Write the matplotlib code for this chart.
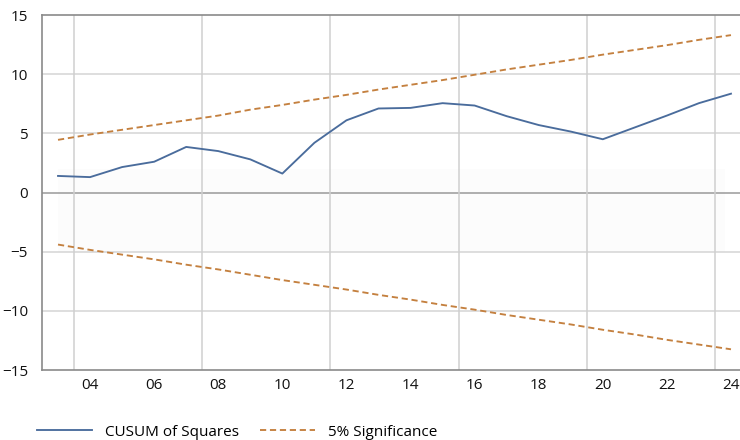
import matplotlib
matplotlib.use("Agg")
import matplotlib.pyplot as plt
import numpy as np

plt.rcParams['font.family'] = ['Open Sans', 'DejaVu Sans']

# data
years = list(range(2003, 2025))
cusum = [1.4, 1.3, 2.15, 2.6, 3.85, 3.5, 2.8, 1.6, 4.2, 6.1, 7.1, 7.15,
         7.55, 7.35, 6.45, 5.7, 5.15, 4.5, 5.5, 6.5, 7.55, 8.35]
upper = [4.45, 4.9, 5.3, 5.7, 6.1, 6.5, 7.0, 7.4, 7.85, 8.25, 8.7, 9.1,
         9.5, 9.95, 10.4, 10.8, 11.2, 11.65, 12.05, 12.45, 12.9, 13.3]
lower = [-4.4, -4.85, -5.25, -5.65, -6.1, -6.5, -6.95, -7.4, -7.8, -8.2, -8.65, -9.05,
         -9.5, -9.9, -10.35, -10.75, -11.15, -11.6, -12.0, -12.45, -12.85, -13.25]
tick_years = list(range(2004, 2025, 2))
tick_labels = ["%02d" % (y % 100) for y in tick_years]

fig = plt.figure(figsize=(7.4, 4.4), dpi=100)
ax = fig.add_axes([42/740, 1 - 370/440, 705/740, 355/440])

blue = '#4a6c9c'
orange = '#c4803f'

# faint shaded band behind the lines
ax.fill_between([2003, 2023.8], -5, 2, color='#fcfcfc', lw=0, zorder=0)

l1, = ax.plot(years, cusum, color=blue, lw=1.35, zorder=3)
l2, = ax.plot(years, upper, color=orange, lw=1.35, dashes=(3.3, 2.0), zorder=3)
ax.plot(years, lower, color=orange, lw=1.35, dashes=(3.3, 2.0), zorder=3)

ax.set_xlim(2002.5, 2024.5)
ax.set_ylim(-15, 15)
ax.set_yticks(range(-15, 16, 5))
ax.set_yticklabels([str(v).replace('-', '\u2212') for v in range(-15, 16, 5)])
ax.set_xticks(tick_years)
ax.set_xticklabels(tick_labels)
ax.set_xticks(np.arange(2003.5, 2024, 4), minor=True)

ax.tick_params(axis='both', which='both', length=0, labelsize=11, colors='#111111')
ax.tick_params(axis='y', pad=10)
ax.tick_params(axis='x', pad=6)

ax.grid(False)
ax.grid(axis='x', which='minor', color='#cfcfcf', lw=1.1)
for v in [-10, -5, 5, 10]:
    ax.axhline(v, color='#d4d4d4', lw=1.1, zorder=1)
ax.axhline(0, color='#9a9a9a', lw=1.1, zorder=1)

for s in ['left', 'bottom', 'top']:
    ax.spines[s].set_color('#8a8a8a')
    ax.spines[s].set_linewidth(1.2)
ax.spines['right'].set_visible(False)

fig.legend([l1, l2], ['CUSUM of Squares', '5% Significance'], loc='center left',
           bbox_to_anchor=(37/740, 1 - 432/440), ncol=2, frameon=False,
           fontsize=11, handlelength=3.6, handletextpad=0.85, columnspacing=1.4,
           borderpad=0, borderaxespad=0)

fig.savefig('out.png', dpi=100)
